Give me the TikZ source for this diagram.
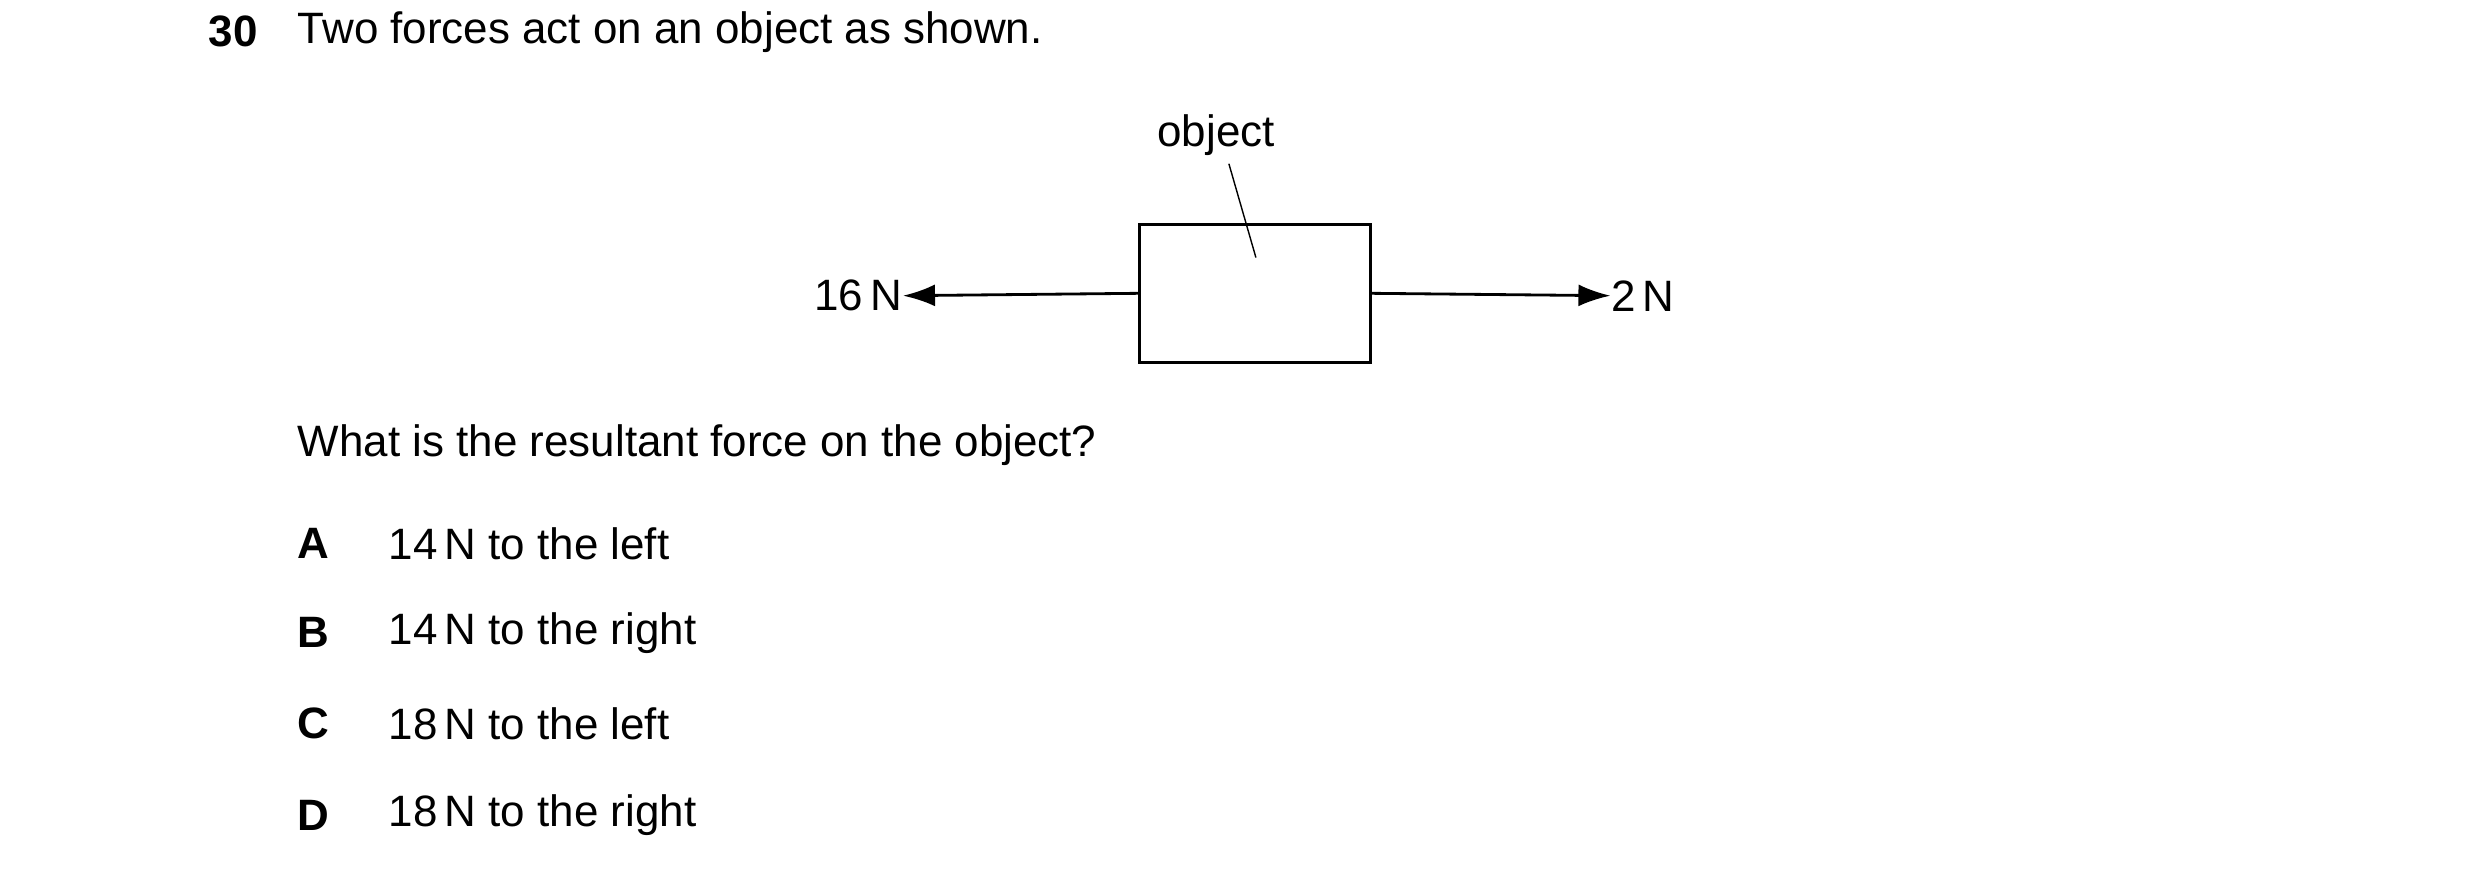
\documentclass[tikz,border=0pt]{standalone}
\usepackage{fontspec}
\setmainfont{Liberation Sans}
\usetikzlibrary{arrows.meta}
\begin{document}
\begin{tikzpicture}[x=0.0159cm, y=-0.0159cm, font=\fontsize{12.5}{15}\selectfont]

      \tikzset{txt/.style={anchor=west, inner sep=0pt},
               force/.style={thick, -{Latex[length=3.2mm, width=2.2mm]}}}
      \useasboundingbox (0,0) rectangle (1560,552);
%% Question
      	\node[txt, font=\fontsize{12.5}{15}\selectfont\bfseries] (num) at (131,20) {30};
      	\node[txt] (q) at (187,20) {Two forces act on an object as shown.};
%% Object
      	\node[draw, thick, minimum width=145*0.0159cm, minimum height=87*0.0159cm, inner sep=0pt] (obj) at (789.5,184.5) {};
      	\node (lab) at (765,85) {object};
      	\coordinate (ltop) at (773,103);
      	\coordinate (lend) at (790,162);
      	\node[anchor=east, inner sep=0pt] (fl) at (568,186) {16\,N};
      	\node[anchor=west, inner sep=0pt] (fr) at (1013,186) {2\,N};
%Edges
		\draw (ltop) -- (lend);
		\draw[force] (obj.west) -- (fl.east);
		\draw[force] (obj.east) -- (fr.west);
%% Options
      	\node[txt] (ask) at (187,280) {What is the resultant force on the object?};
      	\foreach \l/\t/\y in {A/14\,N to the left/342, B/14\,N to the right/398,
      	                      C/18\,N to the left/455, D/18\,N to the right/513}{
      	  \node[txt, font=\fontsize{12.5}{15}\selectfont\bfseries] (opt\l) at (187,\y) {\l};
      	  \node[txt] (ans\l) at (244,\y) {\t};
      	}

	\end{tikzpicture}
\end{document}
